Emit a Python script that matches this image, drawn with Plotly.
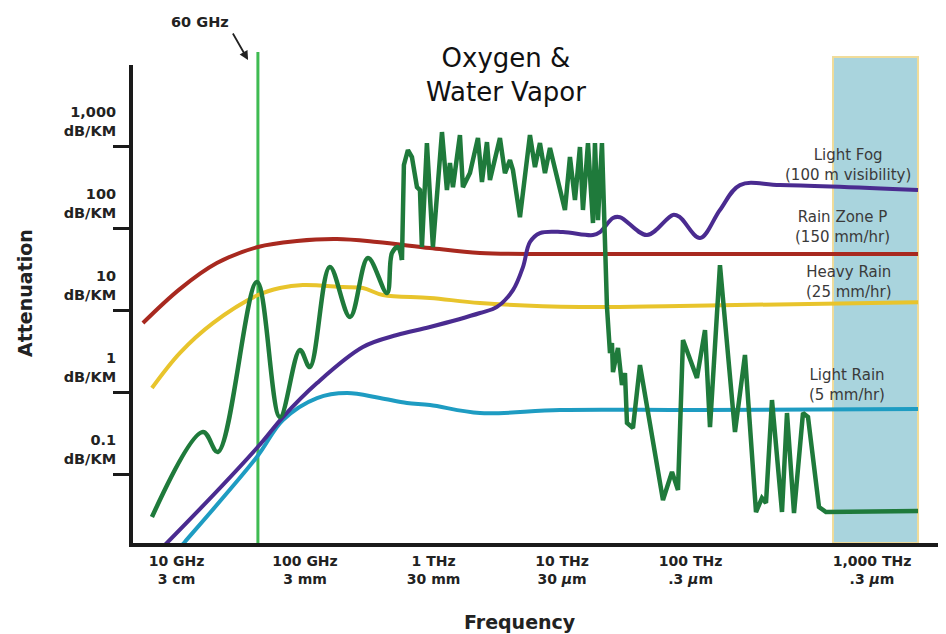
import plotly.graph_objects as go

# ---- data (frequency in GHz, attenuation in dB/km) ----
rain_zone_p_freq = [5.48, 10.6, 20.6, 43.0, 86.5, 177, 363, 938, 2297, 8053, 118400, 5886000]
rain_zone_p_db = [7.06, 18.3, 38.0, 59.7, 70.6, 74.6, 68.7, 58.0, 50.4, 49.0, 49.0, 49.0]

heavy_rain_freq = [6.44, 10.6, 19.2, 43.0, 63.8, 96.3, 197, 282, 404, 938, 2297, 13780, 82700, 5886000]
heavy_rain_db = [1.14, 3.04, 7.06, 15.5, 18.9, 20.5, 19.4, 18.9, 15.5, 14.3, 12.4, 11.1, 11.4, 12.7]

light_fog_freq = [7.43, 8.57, 42.2, 67.3, 124, 282, 519, 938, 2297, 3115, 4149, 4963, 5626, 6730,
                  10160, 17400, 19720, 24900, 28230, 45790, 72950, 82700, 118400, 169300, 242300,
                  496300, 5886000]
light_fog_db = [0.0121, 0.0151, 0.211, 0.504, 1.31, 3.60, 5.04, 6.31, 9.35, 11.1, 17.8, 34.0, 68.7, 88.4,
                90.9, 83.6, 90.9, 135, 138, 83.6, 147, 138, 76.8, 169, 340, 340, 296]

light_rain_freq = [10.25, 11.6, 42.2, 67.3, 124, 212, 383, 621, 938, 2297, 9632, 118400, 5886000]
light_rain_db = [0.0121, 0.0151, 0.164, 0.463, 0.859, 0.989, 0.859, 0.747, 0.706, 0.564, 0.614, 0.614, 0.631]

# oxygen & water vapour absorption: smooth low-frequency part
oxygen_freq_low = [6.44, 16.05, 21.0, 42.2, 63.8, 91.3, 109, 156, 224, 309, 434, 475, 528, 568]
oxygen_db_low = [0.0304, 0.331, 0.189, 22.3, 0.504, 3.31, 2.05, 34.0, 8.36, 43.8, 16.4, 50.4, 59.7, 41.4]

# jagged high-frequency part
oxygen_freq_high = [568, 588, 632, 679, 743, 784, 812, 888, 989, 1163, 1271, 1342, 1416, 1605, 1693,
                    1920, 2216, 2381, 2604, 2748, 3286, 3594, 3932, 4149, 4703, 5626, 6153, 6730, 7362,
                    8053, 10530, 11520, 12600, 13780, 14540, 15910, 17400, 18030, 19030, 20440, 22360,
                    23600, 24450, 24900, 27230, 29250, 30870, 32000, 35630, 40390, 60990, 71680, 79800,
                    87300, 112100, 129500, 141600, 169300, 221600, 265000, 322900, 359400, 386300,
                    430000, 514400, 562600, 637900, 749400, 819600, 998200, 1131000, 5886000]
oxygen_db_high = [41.4, 597, 910, 747, 321, 296, 59.7, 1106, 59.7, 1507, 296, 631, 321, 1384, 321,
                  476, 1273, 370, 1138, 392, 1273, 476, 686, 518, 138, 1384, 564, 1106, 476,
                  962, 169, 747, 223, 989, 169, 1106, 117, 1106, 127, 1106, 11.1,
                  3.04, 4.03, 1.78, 3.50, 1.24, 1.73, 0.426, 0.370, 2.17, 0.0490, 0.108, 0.0649,
                  4.38, 1.51, 5.80, 0.380, 35.9, 0.331, 2.88, 0.0350, 0.0518, 0.0451,
                  0.812, 0.0350, 0.564, 0.0340, 0.564, 0.504, 0.0403, 0.0350, 0.0360]

marker_60ghz_freq = 43.0
optical_band_freq = [1283000, 5886000]

x_tick_vals = [10, 100, 1000, 10000, 100000, 2581000]
x_tick_text = ["10 GHz<br>3 cm", "100 GHz<br>3 mm", "1 THz<br>30 mm", "10 THz<br>30 <i>μ</i>m",
               "100 THz<br>.3 <i>μ</i>m", "1,000 THz<br>.3 <i>μ</i>m"]
y_tick_vals = [0.1, 1, 10, 100, 1000]
y_tick_text = ["0.1<br>dB/KM", "1<br>dB/KM", "10<br>dB/KM", "100<br>dB/KM", "1,000<br>dB/KM"]

FONT = "DejaVu Sans"
RED = "#a8291f"
YELLOW = "#e8c42c"
PURPLE = "#4a2b90"
CYAN = "#1e9cc2"
GREEN = "#1f7a3b"
BRIGHT_GREEN = "#3fbb52"

fig = go.Figure()

def add_line(x, y, color, width, shape="spline"):
    fig.add_trace(go.Scatter(x=x, y=y, mode="lines", line=dict(color=color, width=width, shape=shape),
                             hoverinfo="skip", showlegend=False))

add_line(rain_zone_p_freq, rain_zone_p_db, RED, 4)
add_line(heavy_rain_freq, heavy_rain_db, YELLOW, 4)
add_line(light_rain_freq, light_rain_db, CYAN, 4)
add_line(light_fog_freq, light_fog_db, PURPLE, 4)
add_line(oxygen_freq_low, oxygen_db_low, GREEN, 4.5, "spline")
add_line(oxygen_freq_high, oxygen_db_high, GREEN, 4.5, "linear")

# the page body has an 8 px default margin, so the figure is 8 px smaller on each axis
fig.update_layout(
    width=938, height=626,
    margin=dict(l=125, r=0, t=57, b=91),
    paper_bgcolor="white", plot_bgcolor="rgba(0,0,0,0)",
    showlegend=False,
    xaxis=dict(type="log", range=[0.6615, 6.9875], showgrid=False, zeroline=False,
               showline=True, linewidth=4, linecolor="#1a1a1a", ticks="",
               tickvals=x_tick_vals, ticktext=x_tick_text, ticklabelstandoff=2,
               tickfont=dict(family=FONT, size=14, color="#222", weight="bold")),
    yaxis=dict(type="log", range=[-1.834, 3.996], showgrid=False, zeroline=False,
               showline=True, linewidth=4, linecolor="#1a1a1a",
               ticks="outside", ticklen=16, tickwidth=2.5, tickcolor="#1a1a1a",
               tickvals=y_tick_vals, ticktext=y_tick_text, ticklabelshift=-25,
               ticklabelstandoff=-6,
               tickfont=dict(family=FONT, size=14.5, color="#222", weight="bold")),
    shapes=[
        dict(type="rect", xref="x", yref="paper", x0=optical_band_freq[0], x1=optical_band_freq[1],
             y0=0, y1=1.0167, fillcolor="#a9d4dd", line=dict(color="#f0dc9a", width=2), layer="below"),
        dict(type="line", xref="x", yref="paper", x0=marker_60ghz_freq, x1=marker_60ghz_freq,
             y0=0, y1=1.027, line=dict(color=BRIGHT_GREEN, width=3), layer="below"),
    ],
)

ann_font = dict(family=FONT, size=15, color="#3a3a3a")
labels = [
    ("Light Fog<br>(100 m visibility)", 0.8795, 0.7908),
    ("Rain Zone P<br>(150 mm/hr)", 0.8733, 0.6611),
    ("Heavy Rain<br>(25 mm/hr)", 0.8807, 0.546),
    ("Light Rain<br>(5 mm/hr)", 0.8782, 0.3305),
]
for text, x, y in labels:
    fig.add_annotation(text=text, xref="paper", yref="paper", x=x, y=y, showarrow=False,
                       xanchor="center", yanchor="middle", font=ann_font)

fig.add_annotation(text="Oxygen &<br>Water Vapor", xref="paper", yref="paper", x=0.4588, y=0.979,
                   showarrow=False, xanchor="center", yanchor="middle",
                   font=dict(family=FONT, size=26, color="#111"))
fig.add_annotation(text="60 GHz", xref="paper", yref="paper", x=0.0824, y=1.090, showarrow=False,
                   xanchor="center", yanchor="middle",
                   font=dict(family=FONT, size=14.5, color="#222", weight="bold"))
fig.add_annotation(text="", xref="paper", yref="paper", x=0.1415, y=1.0105, ax=-16, ay=-28,
                   showarrow=True, arrowhead=2, arrowsize=1, arrowwidth=1.8, arrowcolor="#222")
fig.add_annotation(text="Attenuation", xref="paper", yref="paper", x=-0.1328, y=0.523, textangle=-90,
                   showarrow=False, xanchor="center", yanchor="middle",
                   font=dict(family=FONT, size=19, color="#222", weight="bold"))
fig.add_annotation(text="Frequency", xref="paper", yref="paper", x=0.476, y=-0.1653,
                   showarrow=False, xanchor="center", yanchor="middle",
                   font=dict(family=FONT, size=19, color="#222", weight="bold"))

fig.write_html("out.html")
